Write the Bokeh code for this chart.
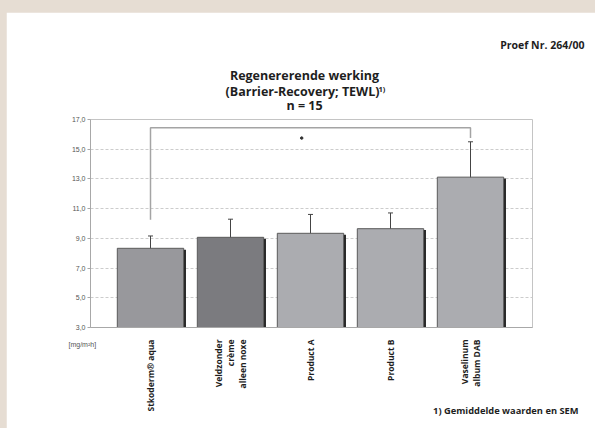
import math
from bokeh.plotting import figure
from bokeh.layouts import column
from bokeh.models import FixedTicker, Whisker, TeeHead, ColumnDataSource, Label, Range1d
from bokeh.embed import file_html
from bokeh.resources import INLINE

# ---- data ----
categories = ["Stkoderm® aqua", "Veldzonder\ncrème\nalleen noxe", "Product A", "Product B",
              "Vaselinum\nalbum DAB"]
means = [8.33, 9.07, 9.34, 9.65, 13.12]
sem = [0.83, 1.22, 1.27, 1.06, 2.38]
bar_colors = ["#98989c", "#7b7b7f", "#abacb0", "#abacb0", "#abacb0"]
y_ticks = [3, 5, 7, 9, 11, 13, 15, 17]
y_tick_labels = ["3,0", "5,0", "7,0", "9,0", "11,0", "13,0", "15,0", "17,0"]
bracket_from, bracket_to = 1, 5
bracket_top = 16.45
bracket_ends = [10.25, 15.75]
star_pos = (2.89, 15.75)
title_lines = ["Regenererende werking", "(Barrier-Recovery; TEWL)", "n = 15"]
title_note = "1)"
test_id = "Proef Nr. 264/00"
footnote = "1) Gemiddelde waarden en SEM"
unit_label = "[mg/m²h]"

W, H = 589, 416           # white panel; beige strip of 6px left / 12px top via wrapper
PX0, PY0 = 6, 12          # panel offset on the page
FONT = "Open Sans"

xs = list(range(1, len(categories) + 1))
src = ColumnDataSource(dict(
    x=xs, top=means, color=bar_colors,
    upper=[m + s for m, s in zip(means, sem)],
    lower=[m - s for m, s in zip(means, sem)],
    xs=[x + 0.028 for x in xs], tops=[m - 0.09 for m in means],
))

p = figure(width=W, height=H, output_backend="svg", toolbar_location=None,
           x_range=Range1d(0.25, 5.775), y_range=Range1d(3, 17),
           min_border_left=84, min_border_right=63, min_border_top=107, min_border_bottom=101)
p.frame_align = False
p.background_fill_color = "white"
p.border_fill_color = "white"
p.outline_line_color = "#c4c4c4"
p.outline_line_width = 1

# grid
p.xgrid.grid_line_color = None
p.ygrid.ticker = FixedTicker(ticks=y_ticks)
p.ygrid.grid_line_color = "#cccccc"
p.ygrid.grid_line_dash = "3 2"
p.ygrid.grid_line_width = 1

# axes
p.yaxis.ticker = FixedTicker(ticks=y_ticks)
p.yaxis.major_label_overrides = dict(zip(y_ticks, y_tick_labels))
p.yaxis.major_label_text_font = "Liberation Sans"
p.yaxis.major_label_text_font_size = "7px"
p.yaxis.major_label_text_color = "#555555"
p.yaxis.axis_line_color = "#a8a8a8"
p.yaxis.major_tick_line_color = "#a8a8a8"
p.yaxis.major_tick_out = 3
p.yaxis.major_tick_in = 0
p.yaxis.minor_tick_line_color = None
p.yaxis.major_label_standoff = 2

p.xaxis.ticker = FixedTicker(ticks=xs)
p.xaxis.major_label_overrides = dict(zip(xs, categories))
p.xaxis.major_label_orientation = math.pi / 2
p.xaxis.major_label_text_font = FONT
p.xaxis.major_label_text_font_style = "bold"
p.xaxis.major_label_text_font_size = "8.5px"
p.xaxis.major_label_text_line_height = 1.1
p.xaxis.major_label_text_color = "#1e1e1e"
p.xaxis.major_label_standoff = 6
p.xaxis.major_tick_line_color = None
p.xaxis.minor_tick_line_color = None
p.xaxis.axis_line_color = "#a8a8a8"

# bars with shadow
p.vbar(x="xs", top="tops", bottom=3, width=0.83, source=src, fill_color="#1e1e1e", line_color=None)
p.vbar(x="x", top="top", bottom=3, width=0.83, source=src, fill_color="color",
       line_color="#5a5a5a", line_width=1)

# error bars
p.add_layout(Whisker(source=src, base="x", upper="upper", lower="lower",
                     line_color="#444444", line_width=1,
                     upper_head=TeeHead(size=5, line_color="#444444", line_width=1),
                     lower_head=TeeHead(size=5, line_color="#444444", line_width=1)))

# significance bracket
p.line([bracket_from, bracket_from, bracket_to, bracket_to],
       [bracket_ends[0], bracket_top, bracket_top, bracket_ends[1]],
       line_color="#a4a4a4", line_width=1.5)
p.scatter([star_pos[0]], [star_pos[1]], size=2.5, color="#333333")

# ---- transparent overlay for the texts outside the plot area ----
t = figure(width=W, height=H, output_backend="svg", toolbar_location=None,
           x_range=Range1d(0, W), y_range=Range1d(H, 0),
           x_axis_type=None, y_axis_type=None, min_border=0)
t.frame_align = False
t.grid.visible = False
t.outline_line_color = None
t.background_fill_color = None
t.border_fill_color = None
t.styles = {"margin-top": f"-{H}px"}


def lab(x, y, text, size, align="center", style="bold", color="#1e1e1e", font=FONT):
    t.add_layout(Label(x=x - PX0, y=y - PY0, text=text,
                       text_font=font, text_font_size=size, text_font_style=style,
                       text_color=color, text_align=align, text_baseline="middle"))


lab(304, 75, title_lines[0], "12.5px")
lab(379, 91, title_lines[1], "12.5px", align="right")
lab(378, 88, title_note, "7.5px", align="left")
lab(304, 105, title_lines[2], "12.5px")
lab(584, 44, test_id, "10.5px", align="right")
lab(578, 410, footnote, "9.3px", align="right")
lab(68, 344, unit_label, "7px", align="left", style="normal", color="#555555", font="Liberation Sans")

root = column(p, t, styles={"background-color": "#e6ddd3", "padding": "12px 0px 0px 6px"})
open("out.html", "w").write(file_html(root, INLINE))
